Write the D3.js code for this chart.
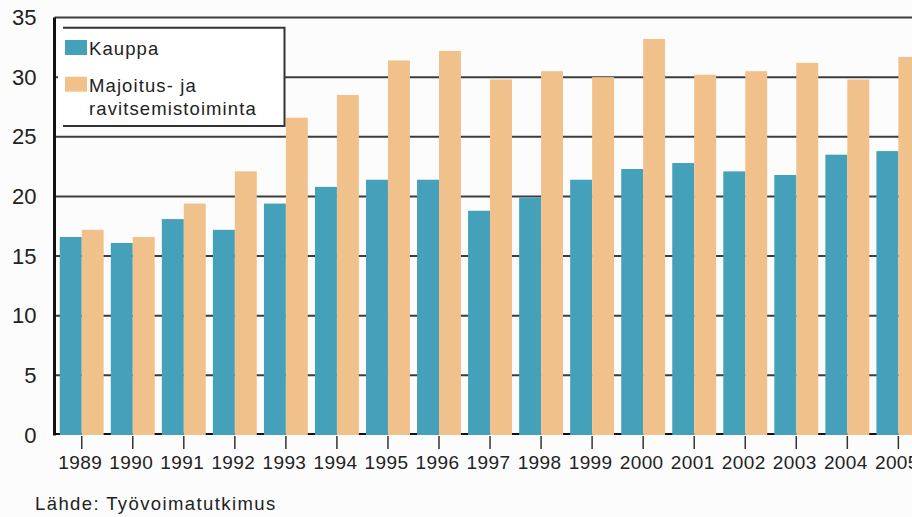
<!DOCTYPE html>
<html>
<head>
<meta charset="utf-8">
<script src="https://cdn.jsdelivr.net/npm/d3@7"></script>
<style>
  html, body { margin: 0; padding: 0; background: #fcfcfc; overflow: hidden; }
  svg { display: block; font-family: "Liberation Sans", Arial, sans-serif; }
</style>
</head>
<body>
<svg id="chart" width="912" height="517"></svg>
<script>
// Osa-aikaisten / määräaikaisten osuus toimialoittain, %
const years = ["1989", "1990", "1991", "1992", "1993", "1994", "1995", "1996", "1997",
               "1998", "1999", "2000", "2001", "2002", "2003", "2004", "2005"];
const kauppa   = [16.6, 16.1, 18.1, 17.2, 19.4, 20.8, 21.4, 21.4, 18.8,
                  19.9, 21.4, 22.3, 22.8, 22.1, 21.8, 23.5, 23.8];
const majoitus = [17.2, 16.6, 19.4, 22.1, 26.6, 28.5, 31.4, 32.2, 29.8,
                  30.5, 30.0, 33.2, 30.2, 30.5, 31.2, 29.8, 31.7];
const seriesLabels = [["Kauppa"], ["Majoitus- ja", "ravitsemistoiminta"]];
const seriesColors = ["#45a0ba", "#f1c18c"];
const yTicks = [0, 5, 10, 15, 20, 25, 30, 35];
const sourceText = "Lähde: Työvoimatutkimus";

const svg = d3.select("#chart");
const axisX = 54.5;
const step = 51.04;
const rangeStart = 56.2;

const x = d3.scaleBand()
  .domain(years)
  .range([rangeStart, rangeStart + years.length * step])
  .paddingInner(0.14)
  .paddingOuter(0.07);

const xs = d3.scaleBand()
  .domain([0, 1])
  .range([0, x.bandwidth()]);

const y = d3.scaleLinear().domain([0, 35]).range([435, 17.5]);

const rightEdge = rangeStart + years.length * step + 10;

// vaakasuorat apuviivat
svg.append("g")
  .selectAll("line")
  .data(yTicks.filter(d => d > 0))
  .join("line")
  .attr("x1", axisX)
  .attr("x2", rightEdge)
  .attr("y1", d => y(d))
  .attr("y2", d => y(d))
  .attr("stroke", "#3c3c3c")
  .attr("stroke-width", 2);

// perusviiva
svg.append("line")
  .attr("x1", axisX).attr("x2", rightEdge)
  .attr("y1", y(0) - 1).attr("y2", y(0) - 1)
  .attr("stroke", "#111").attr("stroke-width", 2);

// pylväät
const rows = years.map((yr, i) => ({ year: yr, values: [kauppa[i], majoitus[i]] }));
const groups = svg.append("g")
  .selectAll("g")
  .data(rows)
  .join("g")
  .attr("transform", d => `translate(${x(d.year)},0)`);

groups.selectAll("rect")
  .data(d => d.values.map((v, k) => ({ k, v })))
  .join("rect")
  .attr("x", d => xs(d.k))
  .attr("width", xs.bandwidth())
  .attr("y", d => y(d.v))
  .attr("height", d => y(0) - y(d.v))
  .attr("fill", d => seriesColors[d.k]);

// y-akseli
svg.append("line")
  .attr("x1", axisX).attr("x2", axisX)
  .attr("y1", y(35)).attr("y2", y(0) + 0.5)
  .attr("stroke", "#111").attr("stroke-width", 3);

const yAxis = svg.append("g")
  .attr("transform", `translate(${axisX},0)`)
  .call(d3.axisLeft(y).tickValues(yTicks).tickSize(0).tickPadding(18));
yAxis.select(".domain").remove();
yAxis.selectAll("text")
  .attr("font-family", "'Liberation Sans', Arial, sans-serif")
  .attr("font-size", 22)
  .attr("fill", "#222");

// x-akseli
const xAxis = svg.append("g")
  .attr("transform", `translate(0,${y(0) + 1})`)
  .call(d3.axisBottom(x).tickSize(13).tickSizeOuter(0).tickPadding(7));
xAxis.select(".domain").remove();
xAxis.selectAll(".tick line").attr("stroke", "#333").attr("stroke-width", 1.5);
xAxis.selectAll("text")
  .attr("font-family", "'Liberation Sans', Arial, sans-serif")
  .attr("font-size", 19)
  .attr("letter-spacing", 0.4)
  .attr("dx", -1.5)
  .attr("fill", "#222");

// selite
const legend = svg.append("g");
const lx0 = 58, lx1 = 284.5, ly0 = 27.7, ly1 = 126;
legend.append("rect")
  .attr("x", lx0).attr("y", ly0)
  .attr("width", lx1 - lx0).attr("height", ly1 - ly0)
  .attr("fill", "#ffffff");
legend.append("path")
  .attr("d", `M63,${ly0}H${lx1}V${ly1}H63`)
  .attr("fill", "none")
  .attr("stroke", "#333")
  .attr("stroke-width", 2);

const entryTop = [40, 76.7];
const entryBase = [55, 91.5];
seriesLabels.forEach((lines, k) => {
  legend.append("rect")
    .attr("x", 65).attr("y", entryTop[k])
    .attr("width", 22).attr("height", 15)
    .attr("fill", seriesColors[k]);
  const t = legend.append("text")
    .attr("x", 89).attr("y", entryBase[k])
    .attr("font-size", 18.5)
    .attr("letter-spacing", 1.1)
    .attr("fill", "#222");
  lines.forEach((ln, j) => {
    t.append("tspan")
      .attr("x", 89)
      .attr("dy", j === 0 ? 0 : 23.5)
      .text(ln);
  });
});

// lähde
svg.append("text")
  .attr("x", 35).attr("y", 510)
  .attr("font-size", 18.5)
  .attr("letter-spacing", 1.4)
  .attr("fill", "#222")
  .text(sourceText);
</script>
</body>
</html>
